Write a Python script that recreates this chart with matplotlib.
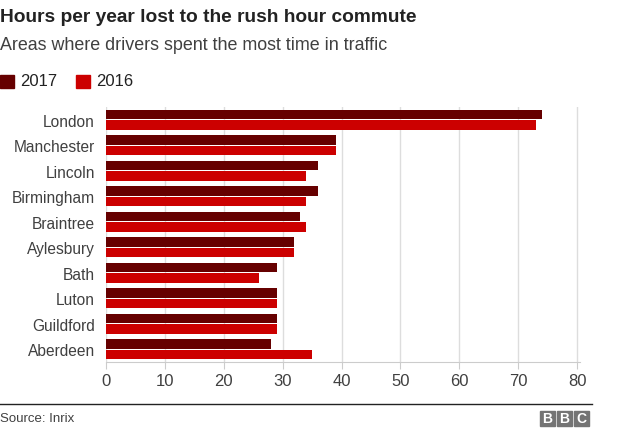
import matplotlib.pyplot as plt
import numpy as np

plt.rcParams['font.family'] = ['Liberation Sans', 'DejaVu Sans']

# data
areas = ['London', 'Manchester', 'Lincoln', 'Birmingham', 'Braintree',
         'Aylesbury', 'Bath', 'Luton', 'Guildford', 'Aberdeen']
hours_2017 = [74, 39, 36, 36, 33, 32, 29, 29, 29, 28]
hours_2016 = [73, 39, 34, 34, 34, 32, 26, 29, 29, 35]
xticks = [0, 10, 20, 30, 40, 50, 60, 70, 80]

c17 = '#660000'
c16 = '#cc0000'
txt = '#404040'

W, H = 624, 431
fig = plt.figure(figsize=(W / 100, H / 100), dpi=100)
ax = fig.add_axes([106 / W, (H - 363) / H, (580 - 106) / W, (363 - 108) / H])

y = np.arange(len(areas))
bh = 0.37
ax.barh(y - 0.2, hours_2017, height=bh, color=c17, zorder=3)
ax.barh(y + 0.2, hours_2016, height=bh, color=c16, zorder=3)

ax.set_ylim(len(areas) - 0.5, -0.5)
ax.set_xlim(0, 80.5)
ax.set_xticks(xticks)
ax.set_yticks(y)
ax.set_yticklabels(areas, fontsize=11.2, color=txt)
ax.tick_params(axis='y', length=0, pad=8)
ax.tick_params(axis='x', length=5, color='#cccccc', labelsize=12, labelcolor=txt, pad=3)
ax.grid(axis='x', color='#dddddd', linewidth=1, zorder=0)
for s in ['top', 'right', 'left']:
    ax.spines[s].set_visible(False)
ax.spines['bottom'].set_color('#cccccc')

# titles
fig.text(0, 1 - 17 / H, 'Hours per year lost to the rush hour commute',
         fontsize=13.8, fontweight='bold', color='#222222', va='center', ha='left')
fig.text(0, 1 - 46 / H, 'Areas where drivers spent the most time in traffic',
         fontsize=12.9, color='#404040', va='center', ha='left')

# legend
for x0, col, lab in [(0, c17, '2017'), (76, c16, '2016')]:
    fig.patches.append(plt.Rectangle((x0 / W, 1 - 89 / H), 14 / W, 13 / H,
                                     transform=fig.transFigure, color=col))
    fig.text((x0 + 20) / W, 1 - 82 / H, lab, fontsize=12, color='#222222',
             va='center', ha='left')

# footer
fig.add_artist(plt.Line2D([0, 592 / W], [1 - 405 / H] * 2,
                          transform=fig.transFigure, color='#222222', linewidth=1))
fig.text(0, 1 - 419 / H, 'Source: Inrix', fontsize=9.5, color='#404040',
         va='center', ha='left')
for i, ch in enumerate('BBC'):
    x0 = 540 + i * 17
    fig.patches.append(plt.Rectangle((x0 / W, 1 - 427 / H), 15 / W, 15 / H,
                                     transform=fig.transFigure, color='#747474'))
    fig.text((x0 + 7.5) / W, 1 - 419.5 / H, ch, fontsize=10, fontweight='bold',
             color='white', va='center', ha='center')

fig.savefig('out.png', dpi=100, facecolor='white')
